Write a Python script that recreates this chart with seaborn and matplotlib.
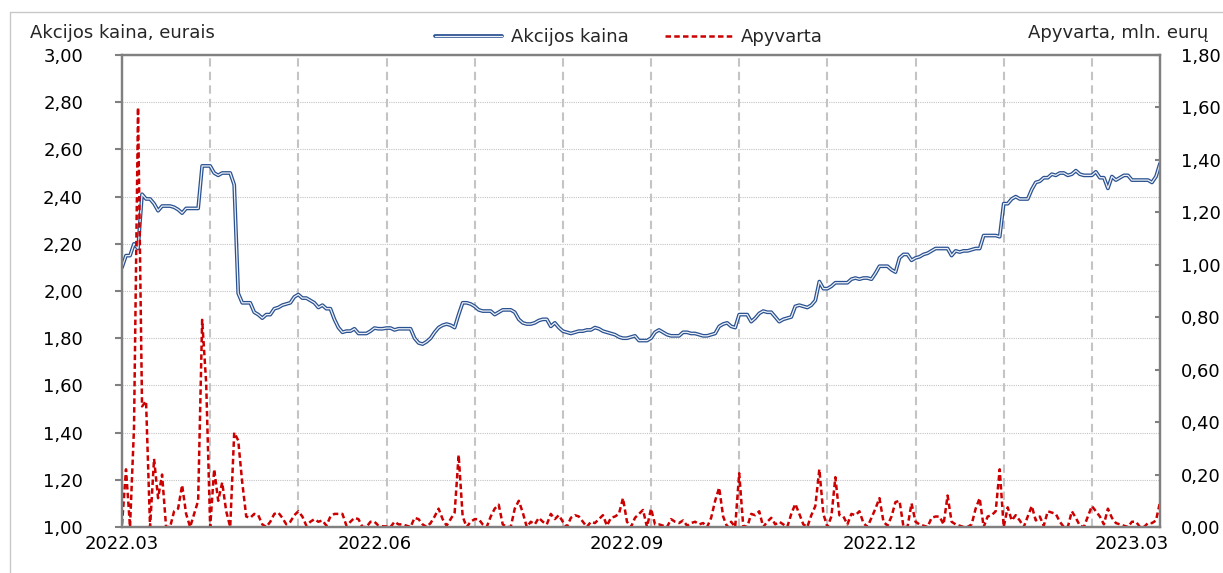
import numpy as np
import pandas as pd
import matplotlib
matplotlib.use("Agg")
import matplotlib.pyplot as plt
import matplotlib.patheffects as pe
from matplotlib.lines import Line2D
from matplotlib.ticker import FuncFormatter
import seaborn as sns

## data (one value per trading day)
price = [
    2.10, 2.15, 2.15, 2.20, 2.18, 2.41, 2.39, 2.39, 2.37, 2.34,
    2.36, 2.36, 2.36, 2.355, 2.345, 2.33, 2.35, 2.35, 2.35, 2.35,
    2.53, 2.53, 2.53, 2.50, 2.49, 2.50, 2.50, 2.50, 2.45, 1.99,
    1.95, 1.95, 1.95, 1.91, 1.90, 1.885, 1.90, 1.90, 1.925, 1.93,
    1.94, 1.945, 1.95, 1.975, 1.985, 1.97, 1.97, 1.96, 1.95, 1.93,
    1.94, 1.925, 1.925, 1.88, 1.845, 1.825, 1.83, 1.83, 1.84, 1.82,
    1.82, 1.82, 1.83, 1.843, 1.84, 1.84, 1.843, 1.843, 1.835, 1.84,
    1.84, 1.84, 1.84, 1.80, 1.78, 1.775, 1.785, 1.80, 1.825, 1.845,
    1.855, 1.86, 1.855, 1.845, 1.90, 1.95, 1.95, 1.945, 1.935, 1.92,
    1.915, 1.915, 1.915, 1.90, 1.91, 1.92, 1.92, 1.92, 1.91, 1.88,
    1.865, 1.86, 1.86, 1.865, 1.875, 1.88, 1.88, 1.85, 1.865, 1.845,
    1.83, 1.825, 1.82, 1.825, 1.83, 1.83, 1.835, 1.835, 1.845, 1.84,
    1.83, 1.825, 1.82, 1.815, 1.805, 1.80, 1.80, 1.805, 1.81, 1.79,
    1.79, 1.79, 1.80, 1.825, 1.835, 1.825, 1.815, 1.81, 1.81, 1.81,
    1.825, 1.825, 1.82, 1.82, 1.815, 1.81, 1.81, 1.815, 1.82, 1.85,
    1.86, 1.865, 1.85, 1.845, 1.90, 1.90, 1.90, 1.87, 1.885, 1.905,
    1.915, 1.91, 1.91, 1.89, 1.87, 1.88, 1.885, 1.89, 1.935, 1.94,
    1.935, 1.93, 1.94, 1.96, 2.04, 2.01, 2.01, 2.02, 2.035, 2.035,
    2.035, 2.035, 2.05, 2.055, 2.05, 2.055, 2.055, 2.05, 2.075, 2.105,
    2.105, 2.105, 2.09, 2.08, 2.14, 2.155, 2.155, 2.13, 2.14, 2.145,
    2.155, 2.16, 2.17, 2.18, 2.18, 2.18, 2.18, 2.15, 2.17, 2.165,
    2.17, 2.17, 2.175, 2.18, 2.18, 2.235, 2.235, 2.235, 2.235, 2.23,
    2.37, 2.37, 2.39, 2.40, 2.39, 2.39, 2.39, 2.43, 2.46, 2.465,
    2.48, 2.48, 2.495, 2.49, 2.50, 2.50, 2.49, 2.495, 2.51, 2.495,
    2.49, 2.49, 2.49, 2.505, 2.48, 2.48, 2.435, 2.485, 2.47, 2.48,
    2.49, 2.49, 2.47, 2.47, 2.47, 2.47, 2.47, 2.46, 2.485, 2.54,
]
turnover = [
    0.01, 0.22, 0.00, 0.38, 1.60, 0.46, 0.48, 0.00, 0.26, 0.11,
    0.20, 0.00, 0.00, 0.06, 0.07, 0.16, 0.05, 0.00, 0.05, 0.10,
    0.79, 0.55, 0.00, 0.22, 0.10, 0.17, 0.06, 0.00, 0.36, 0.33,
    0.17, 0.04, 0.035, 0.05, 0.045, 0.01, 0.00, 0.02, 0.05, 0.055,
    0.035, 0.01, 0.02, 0.045, 0.06, 0.04, 0.005, 0.02, 0.03, 0.02,
    0.025, 0.005, 0.04, 0.05, 0.05, 0.05, 0.005, 0.02, 0.035, 0.03,
    0.00, 0.00, 0.02, 0.02, 0.005, 0.003, 0.002, 0.00, 0.02, 0.01,
    0.01, 0.005, 0.00, 0.035, 0.03, 0.01, 0.00, 0.015, 0.04, 0.07,
    0.03, 0.005, 0.03, 0.055, 0.275, 0.04, 0.00, 0.02, 0.03, 0.03,
    0.01, 0.00, 0.04, 0.07, 0.085, 0.01, 0.00, 0.00, 0.07, 0.10,
    0.055, 0.00, 0.02, 0.01, 0.035, 0.02, 0.01, 0.05, 0.03, 0.045,
    0.02, 0.00, 0.035, 0.045, 0.04, 0.02, 0.00, 0.02, 0.015, 0.03,
    0.045, 0.005, 0.035, 0.04, 0.05, 0.11, 0.02, 0.00, 0.035, 0.05,
    0.065, 0.00, 0.07, 0.01, 0.01, 0.005, 0.00, 0.03, 0.02, 0.015,
    0.025, 0.005, 0.015, 0.02, 0.01, 0.015, 0.00, 0.035, 0.10, 0.15,
    0.04, 0.00, 0.02, 0.00, 0.205, 0.005, 0.00, 0.05, 0.045, 0.06,
    0.00, 0.02, 0.035, 0.01, 0.02, 0.01, 0.00, 0.05, 0.088, 0.05,
    0.01, 0.00, 0.045, 0.08, 0.22, 0.05, 0.00, 0.04, 0.19, 0.045,
    0.04, 0.01, 0.05, 0.045, 0.06, 0.015, 0.00, 0.035, 0.07, 0.11,
    0.02, 0.005, 0.04, 0.095, 0.10, 0.00, 0.00, 0.09, 0.02, 0.01,
    0.005, 0.00, 0.035, 0.04, 0.04, 0.01, 0.12, 0.02, 0.01, 0.005,
    0.00, 0.00, 0.01, 0.07, 0.11, 0.00, 0.04, 0.045, 0.06, 0.22,
    0.00, 0.075, 0.025, 0.045, 0.025, 0.00, 0.04, 0.08, 0.025, 0.04,
    0.005, 0.06, 0.055, 0.05, 0.02, 0.00, 0.00, 0.06, 0.035, 0.005,
    0.00, 0.04, 0.08, 0.06, 0.04, 0.01, 0.07, 0.035, 0.015, 0.01,
    0.005, 0.00, 0.02, 0.02, 0.00, 0.00, 0.015, 0.015, 0.025, 0.095,
]
tick_labels = ["2022.03", "2022.06", "2022.09", "2022.12", "2023.03"]

df = pd.DataFrame({"day": np.arange(len(price)), "price": price, "turnover": turnover})
n = len(df)

sns.set_theme(style="white")
plt.rcParams['font.family'] = ['DejaVu Sans']

fig, ax = plt.subplots(figsize=(12.23, 5.73), dpi=100)
fig.subplots_adjust(left=122/1223, right=1160/1223, bottom=1-527/573, top=1-55/573)
ax2 = ax.twinx()

# price: double line look (dark outline, pale core)
sns.lineplot(data=df, x="day", y="price", ax=ax, color="#eef2f8", lw=0.9,
             label="Akcijos kaina", legend=False,
             path_effects=[pe.Stroke(linewidth=2.7, foreground="#2a5190"), pe.Normal()])
sns.lineplot(data=df, x="day", y="turnover", ax=ax2, color="#cc0000", lw=1.8,
             linestyle=(0, (2.2, 1.3)), label="Apyvarta", legend=False)

ax.set_xlim(0, n - 1)
ax.set_ylim(1, 3)
ax2.set_ylim(0, 1.8)
ax.set_yticks(np.arange(1, 3.001, 0.2))
ax2.set_yticks(np.arange(0, 1.801, 0.2))
fmt = FuncFormatter(lambda v, p: f"{v:.2f}".replace(".", ","))
ax.yaxis.set_major_formatter(fmt)
ax2.yaxis.set_major_formatter(fmt)

ax.set_xticks(np.arange(0, n, 63)[:len(tick_labels)])
ax.set_xticklabels(tick_labels)
ax.set_xticks(np.arange(22, n, 22), minor=True)

ax.grid(which="minor", axis="x", color="#c4c4c4", lw=1.5, linestyle=(0, (4, 2.5)))
ax.grid(which="major", axis="y", color="#c4c4c4", lw=0.8, linestyle=(0, (1, 1)))
ax.grid(which="major", axis="x", visible=False)

ax.tick_params(axis="x", which="both", length=0, pad=6, labelsize=13, labelcolor="black")
ax.tick_params(axis="y", direction="out", length=5, width=1.5, color="#808080",
               pad=23, labelsize=13, labelcolor="black", left=True)
ax2.tick_params(axis="y", direction="in", length=3.5, width=1.5, color="#808080",
                pad=15, labelsize=13, labelcolor="black", right=True)

for a in (ax, ax2):
    a.set_xlabel("")
    a.set_ylabel("")
    for s in a.spines.values():
        s.set_color("#808080")
        s.set_linewidth(1.6)

fig.text(30/1223, 1-33/573, "Akcijos kaina, eurais", ha="left", va="center", fontsize=13)
fig.text(1208/1223, 1-33/573, "Apyvarta, mln. eurų", ha="right", va="center", fontsize=13)

handles = [ax.get_lines()[0], ax2.get_lines()[0]]
fig.legend(handles, ["Akcijos kaina", "Apyvarta"], loc="center", ncol=2,
           bbox_to_anchor=(629/1223, 1-37/573), frameon=False, fontsize=13,
           handlelength=3.7, handletextpad=0.5, columnspacing=2.0)

# outer chart border (light gray)
fig.add_artist(Line2D([10/1223, 10/1223], [1-12/573, 0], transform=fig.transFigure,
                      color="#c8c8c8", lw=1))
fig.add_artist(Line2D([10/1223, 1], [1-12/573, 1-12/573], transform=fig.transFigure,
                      color="#c8c8c8", lw=1))

fig.savefig("out.png", dpi=100)
